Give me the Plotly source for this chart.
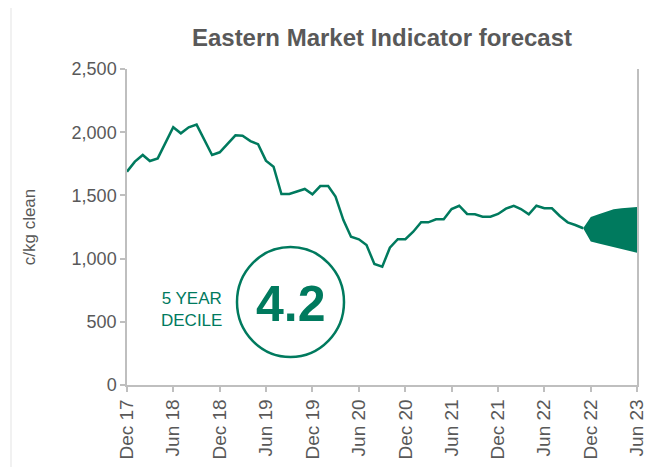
"""Gráfico del indicador de mercado del este (EMI) con pronóstico."""

import plotly.graph_objects as go
import pandas as pd

# Datos mensuales (c/kg limpio), desde dic-17 hasta nov-22
fechas_emi = pd.date_range("2017-12-01", "2022-11-01", freq="MS")
valores_emi = [
    1688, 1767, 1820, 1772, 1793, 1912, 2039, 1991, 2039, 2060, 1944, 1820,
    1841, 1912, 1975, 1972, 1930, 1905, 1775, 1727, 1511, 1511, 1530, 1551,
    1509, 1574, 1574, 1490, 1305, 1173, 1153, 1108, 957, 936, 1086, 1153,
    1153, 1213, 1287, 1287, 1311, 1311, 1392, 1418, 1353, 1350, 1332, 1332,
    1353, 1395, 1418, 1392, 1350, 1418, 1398, 1398, 1337, 1287, 1266, 1240,
]

# Banda de pronóstico (nov-22 a jun-23)
fechas_pronostico = pd.date_range("2022-11-01", "2023-06-01", freq="MS")
pronostico_alto = [1240, 1330, 1350, 1370, 1390, 1398, 1402, 1408]
pronostico_bajo = [1240, 1135, 1120, 1105, 1090, 1075, 1060, 1047]

# Etiquetas del eje x
fechas_ticks = pd.date_range("2017-12-01", "2023-06-01", freq="6MS")
etiquetas_ticks = [f.strftime("%b %y") for f in fechas_ticks]

decil = "4.2"

VERDE = '#007A5E'
GRIS_TEXTO = '#595959'
GRIS_EJE = '#BFBFBF'
FUENTE = 'Liberation Sans, Arial, sans-serif'

# La página agrega 8 px de margen al cuerpo; se compensa en los márgenes
DESFASE = 8

fig = go.Figure()

# Línea histórica
fig.add_trace(go.Scatter(
    x=fechas_emi,
    y=valores_emi,
    mode='lines',
    line=dict(color=VERDE, width=2.5),
    showlegend=False
))

# Banda de pronóstico
fig.add_trace(go.Scatter(
    x=fechas_pronostico,
    y=pronostico_bajo,
    mode='lines',
    line=dict(color=VERDE, width=0),
    showlegend=False
))
fig.add_trace(go.Scatter(
    x=fechas_pronostico,
    y=pronostico_alto,
    mode='lines',
    line=dict(color=VERDE, width=0),
    fill='tonexty',
    fillcolor=VERDE,
    showlegend=False
))

fig.update_layout(
    width=667,
    height=467,
    margin=dict(l=127 - DESFASE, r=30 + DESFASE, t=69 - DESFASE, b=82 + DESFASE),
    paper_bgcolor='white',
    plot_bgcolor='white',
    font=dict(family=FUENTE, color=GRIS_TEXTO),
    title=dict(
        text='Eastern Market Indicator forecast',
        font=dict(size=24, color=GRIS_TEXTO, weight='bold'),
        x=0.5, xref='paper', xanchor='center',
        y=1 - (38 - DESFASE) / 467, yanchor='middle'
    ),
)

fig.update_xaxes(
    type='date',
    range=['2017-12-01', '2023-06-01'],
    tickvals=fechas_ticks,
    ticktext=etiquetas_ticks,
    tickangle=-90,
    tickfont=dict(size=19, color=GRIS_TEXTO),
    showline=True, linecolor=GRIS_EJE, linewidth=1.5,
    ticks='outside', ticklen=5, tickcolor=GRIS_EJE, tickwidth=1.5,
    showgrid=False, zeroline=False
)
fig.update_yaxes(
    range=[0, 2500],
    dtick=500,
    tickformat=',',
    tickfont=dict(size=18, color=GRIS_TEXTO),
    title=dict(text='c/kg clean', font=dict(size=17, color=GRIS_TEXTO), standoff=32),
    showline=True, mirror=True, linecolor=GRIS_EJE, linewidth=1.5,
    ticks='outside', ticklen=5, tickcolor=GRIS_EJE, tickwidth=1.5,
    showgrid=False, zeroline=False
)

# Círculo del decil
fig.add_shape(
    type='circle', xref='paper', yref='paper',
    x0=(237 - 127) / 510, x1=(344 - 127) / 510,
    y0=(385 - 357) / 316, y1=(385 - 247) / 316,
    line=dict(color=VERDE, width=2.5)
)
fig.add_annotation(
    text=f'<b>{decil}</b>', xref='paper', yref='paper',
    x=(291 - 127) / 510, y=(385 - 304) / 316,
    xanchor='center', yanchor='middle', showarrow=False,
    font=dict(size=50, color=VERDE)
)
fig.add_annotation(
    text='5 YEAR<br>DECILE', xref='paper', yref='paper',
    x=(191 - 127) / 510, y=(385 - 309) / 316,
    xanchor='center', yanchor='middle', showarrow=False,
    font=dict(size=17, color=VERDE)
)

# Marco exterior
fig.add_shape(
    type='rect', xref='paper', yref='paper',
    x0=(11 - 127) / 510, x1=(662 - 127) / 510,
    y0=(385 - 480) / 316, y1=(385 - 7) / 316,
    line=dict(color='#E3E3E3', width=1), layer='below'
)

fig.write_html("out.html")
